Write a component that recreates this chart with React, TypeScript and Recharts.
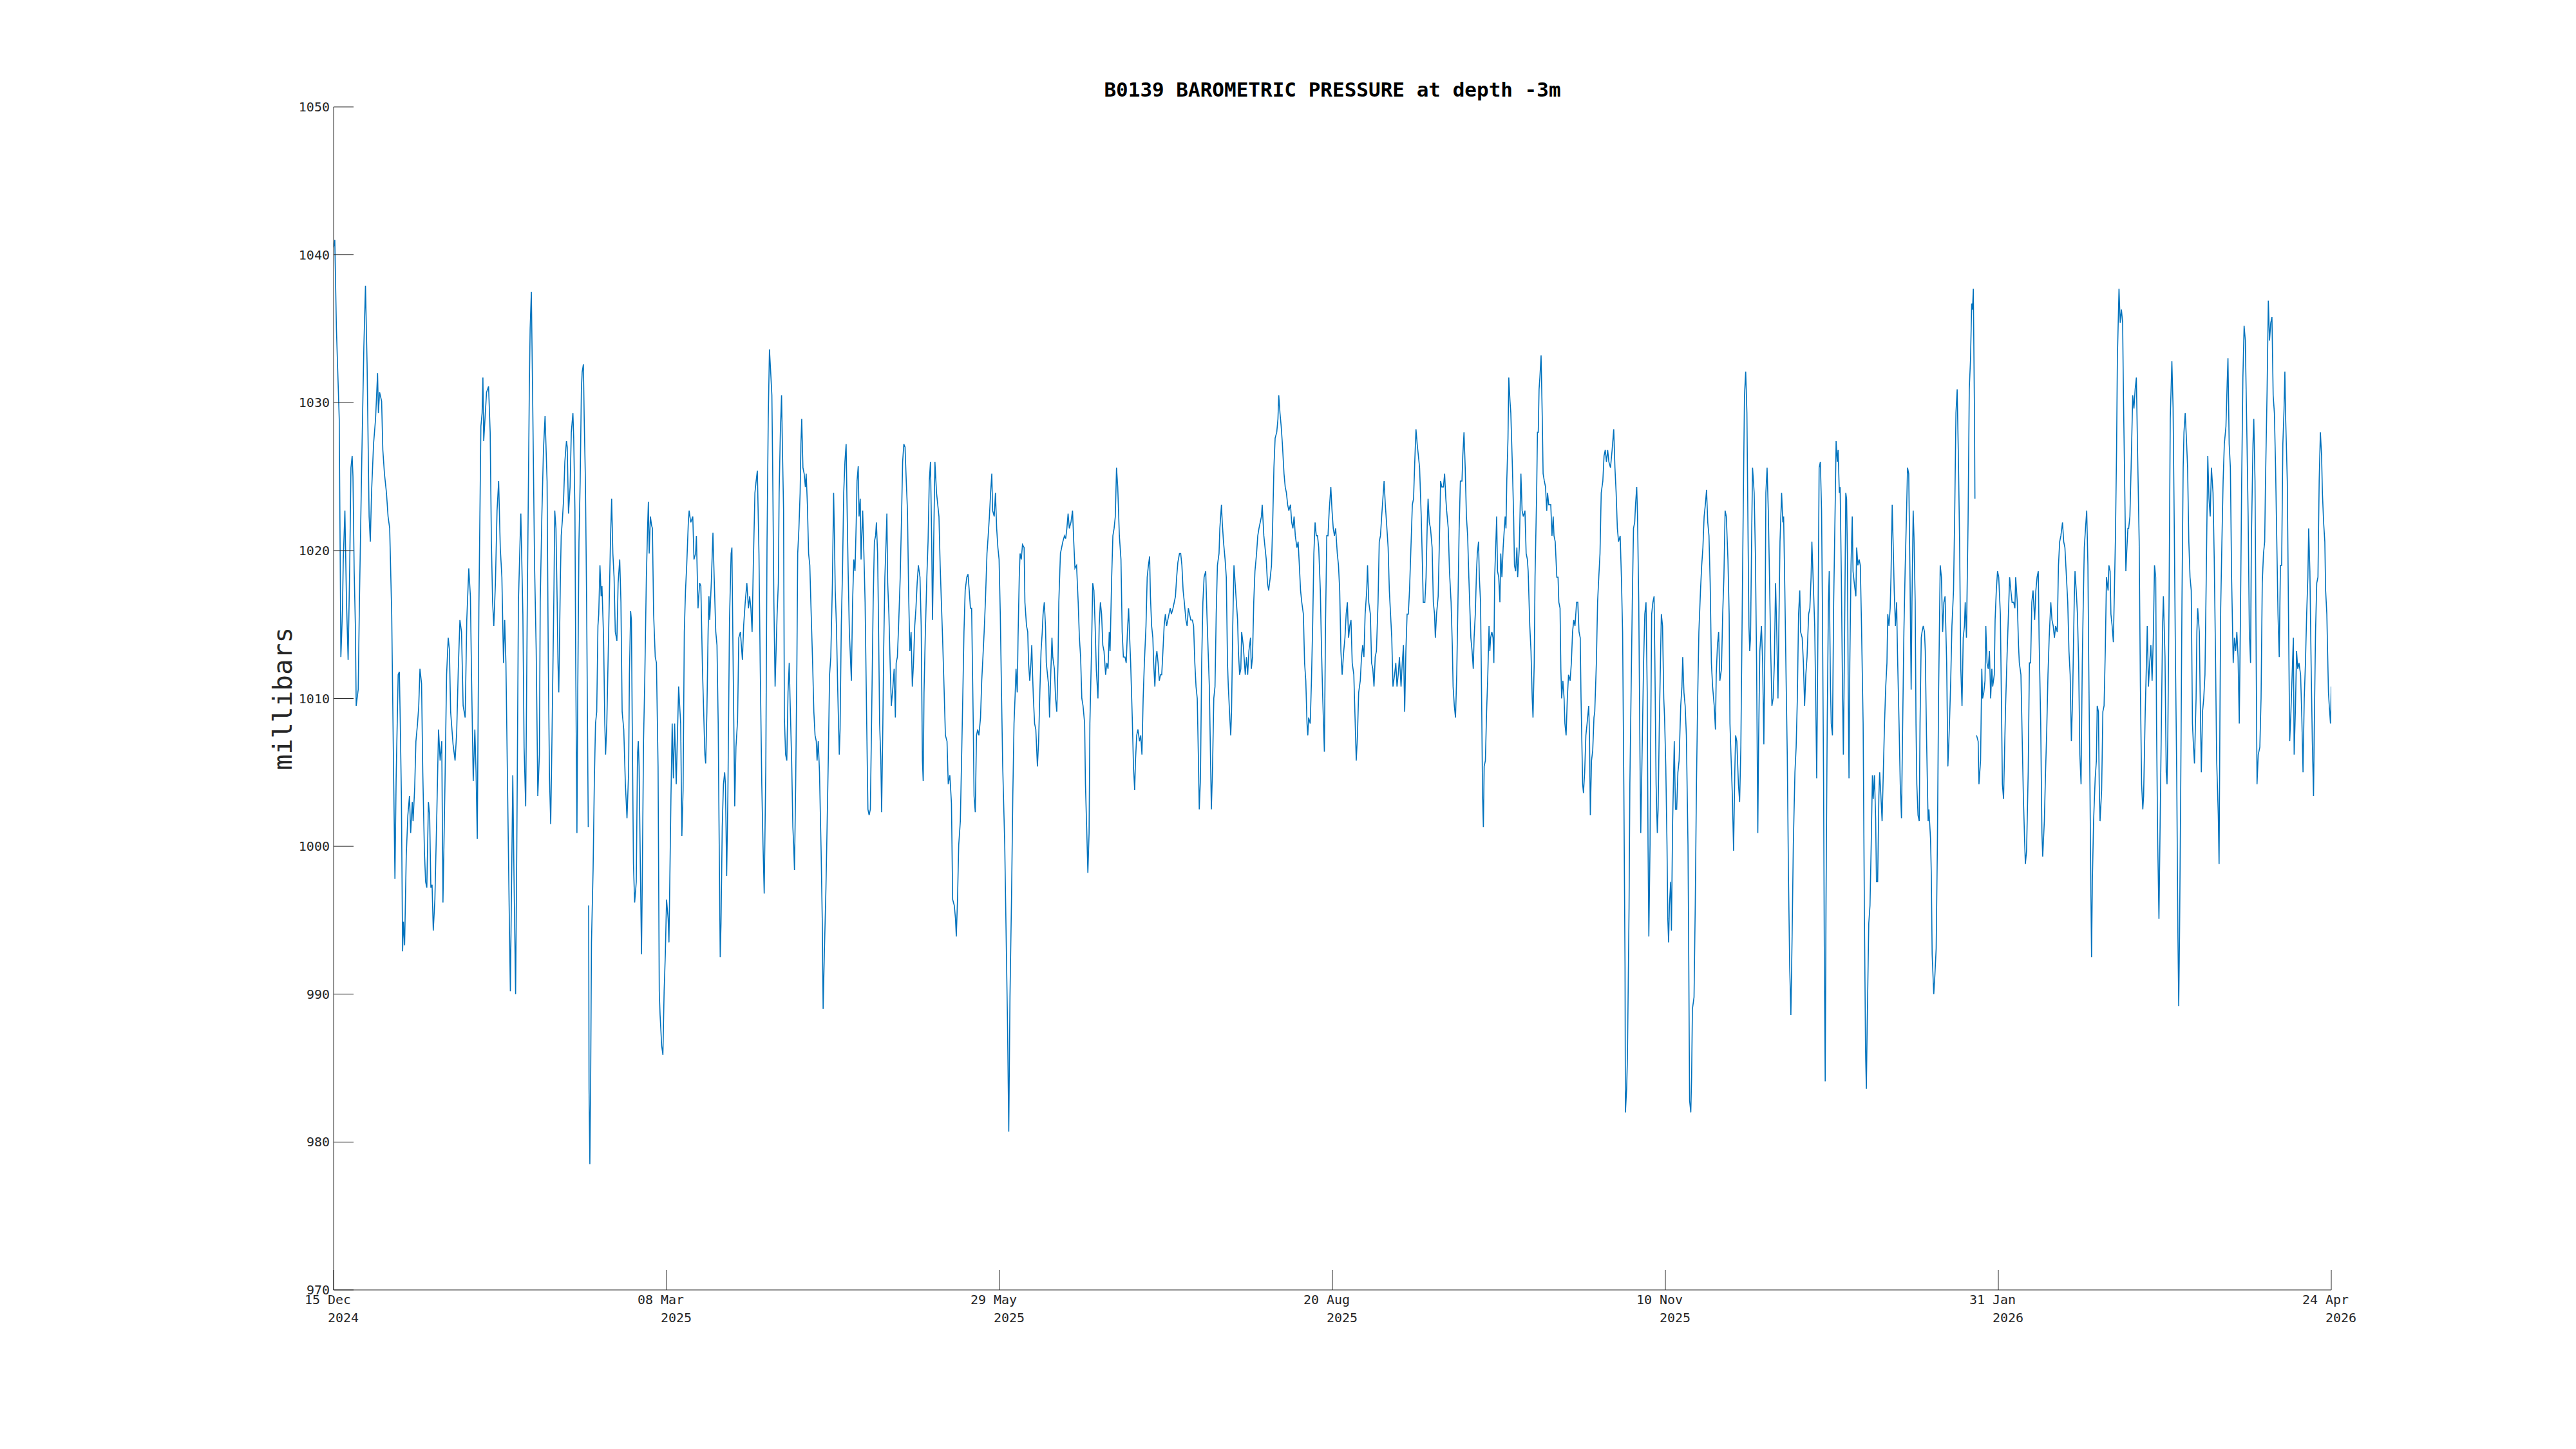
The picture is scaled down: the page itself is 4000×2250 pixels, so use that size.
import { LineChart, Line, XAxis, YAxis } from "recharts";

// [day since 15 Dec 2024, millibars]
const decToFeb = [
  [0.0, 1040.5], [0.3, 1041], [0.7, 1035], [1.4, 1028.9], [1.8, 1012.8], [2.0, 1014.3], [2.2, 1016], [2.4, 1019.4],
  [2.8, 1022.7], [3.2, 1016.5], [3.6, 1012.6], [4.0, 1019], [4.3, 1025.6], [4.6, 1026.4], [4.8, 1025], [5.1, 1018.6],
  [5.4, 1014.9], [5.6, 1009.5], [6.1, 1010.6], [6.4, 1016.5], [7.0, 1026.4], [7.5, 1033.8], [7.9, 1037.9], [8.3, 1032.6],
  [8.8, 1022.3], [9.1, 1020.6], [9.4, 1023.9], [9.9, 1027.2], [10.4, 1028.9], [10.9, 1032], [11.1, 1029.3], [11.4, 1030.7],
  [11.9, 1030.1], [12.2, 1026.8], [12.6, 1025.2], [13.1, 1023.9], [13.5, 1022.3], [13.9, 1021.5], [14.4, 1015.7], [14.9, 1004.2],
  [15.2, 997.8], [15.5, 1004.6], [16.0, 1011.6], [16.3, 1011.8], [16.5, 1008.7], [16.8, 1003.4], [17.1, 992.9], [17.3, 994.9],
  [17.6, 993.3], [18.0, 999.3], [18.4, 1002.1], [18.8, 1003.4], [19.1, 1000.9], [19.5, 1003], [19.7, 1001.7], [20.1, 1004],
  [20.4, 1007.1], [20.8, 1008.3], [21.1, 1009.5], [21.4, 1012], [21.8, 1011], [22.1, 1005], [22.5, 999.7], [22.8, 997.6],
  [23.1, 997.2], [23.5, 1003], [23.8, 1002.1], [24.1, 997.2], [24.4, 997.4], [24.7, 994.3], [25.1, 996.4], [25.6, 1002.5],
  [26.0, 1007.9], [26.4, 1005.8], [26.8, 1007.1], [27.1, 996.2], [27.6, 1004.2], [28.0, 1011.6], [28.4, 1014.1], [28.7, 1013.3],
  [29.0, 1009.1], [29.6, 1006.9], [30.1, 1005.8], [30.5, 1007.7], [30.9, 1012], [31.3, 1015.3], [31.7, 1014.5], [32.1, 1009.5],
  [32.6, 1008.7], [33.0, 1015.3], [33.5, 1018.8], [33.9, 1016.9], [34.2, 1011.2], [34.6, 1004.4], [35.0, 1007.9], [35.3, 1005],
  [35.6, 1000.5], [36.0, 1016.1], [36.5, 1028.4], [36.8, 1029.3], [37.0, 1031.7], [37.2, 1027.4], [37.6, 1029.3], [37.9, 1030.7],
  [38.4, 1031.1], [38.8, 1028], [39.1, 1020.6], [39.4, 1016.5], [39.7, 1014.9], [40.1, 1017.8], [40.5, 1022.7], [40.9, 1024.7],
  [41.3, 1020.2], [41.7, 1018.2], [42.1, 1012.4], [42.4, 1015.3], [42.7, 1012.4], [43.1, 1004.2], [43.5, 996], [43.8, 990.2],
  [44.4, 1004.8], [44.7, 998], [45.1, 990], [45.4, 1000.1], [45.8, 1016.5], [46.2, 1020.6], [46.4, 1022.5], [46.9, 1015.7],
  [47.2, 1006.7], [47.6, 1002.7], [48.0, 1016.5], [48.5, 1030.9], [48.7, 1035], [49.0, 1037.5], [49.3, 1030.9], [49.8, 1019],
  [50.2, 1013.3], [50.6, 1003.4], [51.0, 1006.2], [51.2, 1016.5], [51.6, 1022.3], [52.0, 1026.8], [52.4, 1029.1], [52.9, 1024.7],
  [53.2, 1012.4], [53.5, 1004.6], [53.8, 1001.5], [54.1, 1007.1],
];

const febToApr = [
  [54.6, 1017.3], [54.8, 1022.7], [55.1, 1021.5], [55.4, 1016.5], [55.6, 1012.4], [55.8, 1010.4], [56.2, 1018.2], [56.4, 1021],
  [56.7, 1022.1], [57.0, 1023.5], [57.3, 1026], [57.7, 1027.4], [57.9, 1027], [58.2, 1022.5], [58.6, 1024.3], [58.9, 1028],
  [59.3, 1029.3], [59.5, 1027.6], [59.8, 1022.7], [60.0, 1012.4], [60.3, 1000.9], [60.5, 1010.4], [60.8, 1020.6], [61.1, 1024.7],
  [61.4, 1030.9], [61.6, 1032.1], [61.9, 1032.6], [62.1, 1028.9], [62.4, 1024.7], [62.7, 1016.5], [63.1, 1001.3], [63.15, null],
  [63.2, 996], [63.3, 983.6], [63.5, 978.5], [63.7, 984.4], [63.9, 993.5], [64.3, 998.4], [64.6, 1004.2], [64.9, 1008.3],
  [65.2, 1009.1], [65.5, 1014.9], [65.7, 1015.7], [66.0, 1019], [66.3, 1016.9], [66.5, 1017.6], [66.9, 1014.1], [67.2, 1008.3],
  [67.4, 1006.2], [67.7, 1008.3], [68.0, 1012.4], [68.3, 1016.5], [68.6, 1020.6], [68.9, 1023.5], [69.2, 1019.8], [69.5, 1018.2],
  [69.8, 1014.5], [70.2, 1013.9], [70.5, 1017.8], [70.9, 1019.4], [71.2, 1016.5], [71.5, 1009.1], [71.9, 1007.9], [72.3, 1004.2],
  [72.7, 1001.9], [73.1, 1005], [73.3, 1011.6], [73.6, 1015.9], [73.8, 1015.3], [74.0, 1008.3], [74.3, 998.8], [74.6, 996.2],
  [75.0, 997.6], [75.3, 1006.2], [75.5, 1007.1], [75.7, 1005.4], [76.0, 998.8], [76.3, 992.7], [76.5, 998], [76.8, 1007.1],
  [77.1, 1011.2], [77.5, 1018.2], [77.8, 1021.5], [78.0, 1023.3], [78.2, 1019.8], [78.5, 1022.3], [78.8, 1021.7], [79.0, 1021.5],
  [79.3, 1015.7], [79.7, 1012.8], [80.0, 1012.4], [80.4, 1005.4], [80.7, 990.2], [80.9, 988.6], [81.3, 986.5], [81.6, 985.9],
  [81.9, 990.2], [82.2, 992.7], [82.5, 996.4], [82.9, 995.1], [83.1, 993.5], [83.6, 1003.4], [83.9, 1008.3], [84.2, 1004.6],
  [84.5, 1008.3], [84.9, 1004.2], [85.2, 1007.5], [85.5, 1010.8], [86.0, 1008.3], [86.3, 1000.7], [86.6, 1003.8], [86.9, 1014.5],
  [87.2, 1017.3], [87.5, 1019], [87.9, 1021.9], [88.1, 1022.7], [88.5, 1021.9], [89.0, 1022.3], [89.3, 1019.4], [89.7, 1019.8],
  [89.9, 1021], [90.3, 1016.1], [90.7, 1017.8], [91.0, 1017.6], [91.4, 1012], [91.7, 1009.1], [92.0, 1006.2], [92.2, 1005.6],
  [92.5, 1009.1], [92.8, 1014.5], [93.0, 1016.9], [93.2, 1015.3], [93.6, 1017.9], [94.0, 1021.2], [94.3, 1018.2], [94.7, 1014.5],
  [95.0, 1013.6], [95.3, 1008.3], [95.5, 1001.7], [95.8, 992.5], [96.0, 994.8], [96.3, 1001.3], [96.6, 1004.2], [96.9, 1005],
  [97.1, 1004.2], [97.4, 998], [97.7, 1003.4], [98.1, 1015.3], [98.5, 1019.8], [98.7, 1020.2], [99.0, 1012.4], [99.4, 1002.7],
  [99.7, 1006.7], [100.1, 1008.5], [100.4, 1014.1], [100.8, 1014.5], [101.3, 1012.6], [101.6, 1014.9], [102.0, 1016.5], [102.4, 1017.8],
  [102.8, 1016.1], [103.1, 1016.9], [103.4, 1016.1], [103.7, 1014.5], [104.0, 1019], [104.4, 1023.9], [104.7, 1024.7], [105.0, 1025.4],
  [105.4, 1019.8], [105.7, 1012.4], [106.1, 1004.2], [106.4, 1000.1], [106.7, 996.8], [107.1, 1005.4], [107.4, 1020.6], [107.7, 1028.9],
  [108.0, 1033.6], [108.3, 1032.1], [108.6, 1030.5], [108.8, 1025.6], [109.1, 1016.5], [109.4, 1010.8],
];

const aprToMay = [
  [109.9, 1015.7], [110.2, 1017.8], [110.4, 1023.9], [110.7, 1028], [111.0, 1030.5], [111.2, 1027.2], [111.5, 1022.7], [111.7, 1008.7],
  [112.0, 1006.2], [112.3, 1005.8], [112.6, 1010.4], [112.9, 1012.4], [113.1, 1010], [113.5, 1005.8], [113.8, 1001.3], [114.0, 1000.1],
  [114.2, 998.4], [114.5, 1004.2], [114.8, 1012.4], [115.0, 1019.8], [115.3, 1021.5], [115.6, 1023.9], [115.8, 1027.2], [116.0, 1028.9],
  [116.3, 1025.6], [116.6, 1025.2], [116.9, 1024.3], [117.1, 1025.2], [117.4, 1023.1], [117.7, 1019.8], [118.0, 1019], [118.3, 1016.1],
  [118.7, 1012.4], [119.0, 1009.1], [119.3, 1007.5], [119.6, 1007.1], [119.8, 1005.8], [120.1, 1007.1], [120.4, 1005], [120.8, 999.7],
  [121.1, 994.8], [121.3, 989], [121.6, 992.7], [122.0, 997.2], [122.2, 1000.1], [122.6, 1006.2], [122.9, 1011.6], [123.2, 1012.8],
  [123.6, 1017.8], [123.9, 1023.9], [124.1, 1021], [124.3, 1017.3], [124.6, 1014.9], [124.9, 1010.8], [125.3, 1006.2], [125.5, 1007.9],
  [125.8, 1014.9], [126.1, 1018.6], [126.4, 1023.9], [126.7, 1026], [127.0, 1027.2], [127.2, 1023.5], [127.5, 1018.6], [127.8, 1014.5],
  [128.0, 1013.2], [128.3, 1011.2], [128.6, 1016.5], [128.9, 1019.4], [129.2, 1018.6], [129.5, 1021.9], [129.7, 1024.7], [130.0, 1025.7],
  [130.2, 1022.3], [130.5, 1023.5], [130.7, 1019.4], [131.1, 1022.7], [131.4, 1019.8], [131.7, 1016.5], [132.1, 1008.3], [132.4, 1002.5],
  [132.7, 1002.1], [133.0, 1002.5], [133.3, 1008.3], [133.7, 1016.5], [134.0, 1020.6], [134.3, 1021], [134.5, 1021.9], [134.8, 1019.8],
  [135.0, 1015.7], [135.3, 1008.3], [135.6, 1005.8], [135.8, 1002.3], [136.1, 1008.3], [136.3, 1013.2], [136.6, 1018.2], [136.9, 1020.6],
  [137.1, 1022.5], [137.3, 1017.8], [137.6, 1015.7], [137.9, 1012.4], [138.2, 1009.5], [138.6, 1010.8], [138.9, 1012], [139.2, 1008.7],
  [139.4, 1012.4], [139.7, 1012.8], [140.0, 1014.9], [140.4, 1018.2], [140.7, 1021.9], [141.0, 1026], [141.3, 1027.2], [141.6, 1027],
  [141.9, 1024.7], [142.2, 1022.7], [142.5, 1016.9], [142.8, 1013.2], [143.1, 1014.5], [143.4, 1010.8], [143.7, 1012.4], [144.0, 1014.9],
  [144.3, 1016.1], [144.6, 1017.8], [144.9, 1019], [145.3, 1018.2], [145.6, 1014.9], [145.9, 1005.8], [146.1, 1004.4], [146.3, 1010.4],
  [146.6, 1014.1], [147.0, 1018.2], [147.3, 1020.6], [147.6, 1024.7], [147.9, 1026], [148.2, 1020.6], [148.4, 1015.3], [148.7, 1020.6],
  [149.0, 1026], [149.4, 1023.9], [149.7, 1023.1], [150.0, 1022.3], [150.3, 1019], [150.6, 1016.5], [150.9, 1014.1], [151.3, 1010.4],
  [151.6, 1007.5], [152.0, 1007.1], [152.3, 1004.2], [152.7, 1004.8], [153.1, 1002.9], [153.4, 996.4], [153.8, 996], [154.1, 995.1],
  [154.3, 993.9], [154.6, 996.4], [154.9, 1000.1], [155.3, 1001.7], [155.6, 1005.8], [155.9, 1010], [156.2, 1014.5], [156.5, 1017.3],
  [156.9, 1018.2], [157.2, 1018.4], [157.5, 1017.3], [157.8, 1016.1], [158.1, 1016.1], [158.5, 1008.3], [158.7, 1003.4], [159.0, 1002.3],
  [159.3, 1007.5], [159.6, 1007.9], [159.9, 1007.5], [160.3, 1008.7], [160.6, 1011.2], [160.9, 1012.8], [161.2, 1014.5], [161.5, 1016.5],
  [161.9, 1019.8], [162.2, 1021], [162.5, 1022.3], [162.8, 1023.9], [163.1, 1025.2], [163.3, 1022.7], [163.7, 1022.3], [164.0, 1023.9],
  [164.3, 1021.5], [164.6, 1020.2],
];

const mayToJul = [
  [164.9, 1019.4], [165.2, 1015.7], [165.5, 1010.4], [165.8, 1005.4], [166.3, 1000.1], [166.6, 994.8], [167.0, 987.8], [167.3, 980.7],
  [167.6, 989.8], [168.0, 996.8], [168.3, 1003.4], [168.6, 1008.3], [168.9, 1010.4], [169.1, 1012], [169.4, 1010.4], [169.6, 1014.1],
  [169.9, 1018.2], [170.1, 1019.8], [170.4, 1019.4], [170.7, 1020.4], [171.1, 1020.2], [171.3, 1016.5], [171.7, 1014.9], [172.0, 1014.5],
  [172.2, 1012.4], [172.5, 1011.2], [172.8, 1012.4], [173.0, 1013.6], [173.2, 1011.6], [173.4, 1010], [173.7, 1008.3], [174.0, 1007.9],
  [174.4, 1005.4], [174.7, 1007.1], [175.0, 1010.4], [175.3, 1013.2], [175.6, 1014.5], [175.8, 1015.7], [176.1, 1016.5], [176.4, 1014.9],
  [176.6, 1012.4], [176.9, 1011.6], [177.2, 1010.8], [177.4, 1008.7], [177.7, 1011.6], [178.0, 1014.1], [178.2, 1012.8], [178.6, 1012],
  [178.9, 1010], [179.2, 1009.1], [179.5, 1012.4], [179.7, 1016.5], [180.1, 1019.8], [180.4, 1020.2], [180.7, 1020.6], [181.1, 1021],
  [181.4, 1020.8], [181.7, 1021.5], [182.0, 1022.5], [182.3, 1021.5], [182.7, 1021.9], [183.1, 1022.7], [183.4, 1020.6], [183.7, 1018.8],
  [184.1, 1019], [184.5, 1016.5], [184.8, 1014.1], [185.1, 1012.8], [185.4, 1010], [185.7, 1009.5], [186.1, 1008.3], [186.3, 1004.2],
  [186.6, 1001.3], [186.9, 998.2], [187.2, 1000.9], [187.4, 1008.3], [187.8, 1013.2], [188.1, 1017.8], [188.4, 1017.3], [188.7, 1014.9],
  [189.0, 1011.9], [189.4, 1010], [189.7, 1014.9], [190.0, 1016.5], [190.3, 1015.7], [190.6, 1013.6], [190.9, 1013.2], [191.3, 1011.6],
  [191.6, 1012.4], [191.9, 1012], [192.2, 1014.5], [192.4, 1013.2], [192.8, 1018.2], [193.1, 1021], [193.4, 1021.5], [193.7, 1022.3],
  [194.0, 1025.6], [194.3, 1024.3], [194.7, 1021], [195.1, 1019.4], [195.4, 1014.5], [195.7, 1012.8], [196.1, 1012.8], [196.4, 1012.4],
  [196.7, 1014.5], [197.0, 1016.1], [197.2, 1014.5], [197.5, 1012.4], [197.9, 1008.7], [198.2, 1005.4], [198.5, 1003.8], [198.7, 1005.8],
  [199.0, 1007.5], [199.3, 1007.9], [199.7, 1007.1], [200.0, 1007.5], [200.3, 1006.2], [200.6, 1010], [200.9, 1012.4], [201.3, 1014.9],
  [201.6, 1018.2], [201.9, 1019], [202.2, 1019.6], [202.4, 1016.9], [202.7, 1014.9], [203.0, 1014.1], [203.2, 1012.4], [203.5, 1010.8],
  [203.8, 1012.8], [204.0, 1013.2], [204.3, 1012.4], [204.6, 1011.2], [204.9, 1011.6], [205.2, 1011.6], [205.5, 1013.2], [205.8, 1014.9],
  [206.1, 1015.7], [206.4, 1014.9], [206.7, 1015.3], [207.0, 1015.7], [207.3, 1016.1], [207.6, 1015.7], [208.0, 1016.1], [208.3, 1016.5],
  [208.6, 1016.9], [208.9, 1018.2], [209.2, 1019.2], [209.6, 1019.8], [209.9, 1019.8], [210.2, 1019], [210.5, 1017.3], [210.8, 1016.5],
  [211.2, 1015.3], [211.5, 1014.9], [211.8, 1016.1], [212.1, 1015.7], [212.4, 1015.3], [212.8, 1015.3], [213.1, 1014.9], [213.4, 1012.4],
  [213.7, 1010.8], [214.0, 1010], [214.3, 1005.8], [214.5, 1002.5], [214.8, 1004.6], [215.1, 1012.4], [215.4, 1016.5], [215.7, 1018.2],
  [216.1, 1018.6], [216.4, 1015.7], [216.7, 1013.2], [217.0, 1010.8], [217.3, 1005.8], [217.5, 1002.5], [217.8, 1005.4], [218.1, 1010],
  [218.4, 1010.8], [218.7, 1015.7], [219.0, 1019], [219.4, 1019.8], [219.6, 1021.5],
];

const julToSep = [
  [220.0, 1023.1], [220.2, 1021.9], [220.5, 1020.6], [220.9, 1019.4], [221.2, 1018.2], [221.5, 1012.4], [221.7, 1010.8], [222.0, 1009.1],
  [222.3, 1007.5], [222.5, 1009.1], [222.8, 1014.9], [223.1, 1019], [223.3, 1018.2], [223.6, 1016.9], [224.0, 1015.3], [224.2, 1013.2],
  [224.5, 1011.6], [224.8, 1012], [225.0, 1014.5], [225.4, 1013.6], [225.7, 1012.4], [225.9, 1011.6], [226.2, 1012.8], [226.5, 1011.6],
  [226.8, 1013.2], [227.2, 1014.1], [227.4, 1012], [227.7, 1012.8], [228.0, 1016.5], [228.3, 1018.6], [228.7, 1019.8], [229.0, 1021],
  [229.3, 1021.5], [229.6, 1021.9], [229.9, 1022.3], [230.1, 1023.1], [230.5, 1021], [230.8, 1020.2], [231.1, 1019.4], [231.4, 1017.8],
  [231.7, 1017.3], [232.1, 1018.2], [232.4, 1019], [232.7, 1021.9], [233.0, 1025.6], [233.3, 1027.6], [233.7, 1028], [234.0, 1028.9],
  [234.2, 1030.5], [234.5, 1029.3], [234.8, 1028.4], [235.1, 1027.2], [235.5, 1025.2], [235.8, 1024.3], [236.1, 1023.9], [236.4, 1023.1],
  [236.7, 1022.7], [237.1, 1023.1], [237.4, 1021.9], [237.7, 1021.5], [238.0, 1022.3], [238.3, 1021], [238.7, 1020.2], [239.0, 1020.6],
  [239.3, 1019], [239.6, 1017.3], [239.9, 1016.5], [240.3, 1015.7], [240.6, 1012.4], [240.9, 1011.2], [241.2, 1008.3], [241.4, 1007.5],
  [241.6, 1008.7], [242.0, 1008.3], [242.3, 1011.2], [242.6, 1014.9], [242.9, 1019.8], [243.2, 1021.9], [243.5, 1021], [243.8, 1021],
  [244.1, 1020.2], [244.5, 1017.3], [244.8, 1013.2], [245.1, 1010], [245.5, 1006.4], [245.8, 1015.3], [246.1, 1021], [246.4, 1021],
  [246.7, 1022.7], [247.1, 1024.3], [247.4, 1022.7], [247.7, 1021.5], [248.0, 1021], [248.3, 1021.5], [248.7, 1019.8], [249.0, 1019],
  [249.3, 1017.3], [249.6, 1013.2], [249.9, 1011.6], [250.3, 1013.2], [250.6, 1014.1], [250.9, 1015.7], [251.2, 1016.5], [251.5, 1014.1],
  [251.8, 1014.9], [252.1, 1015.3], [252.4, 1012.4], [252.8, 1011.6], [253.1, 1008.7], [253.4, 1005.8], [253.7, 1007.5], [254.0, 1010.4],
  [254.4, 1011.2], [254.7, 1012.8], [255.0, 1013.6], [255.3, 1012.8], [255.6, 1015.7], [256.0, 1017.3], [256.2, 1019], [256.5, 1016.5],
  [256.9, 1015.7], [257.2, 1012.4], [257.5, 1012], [257.8, 1010.8], [258.1, 1012.8], [258.4, 1013.2], [258.8, 1016.5], [259.1, 1020.6],
  [259.4, 1021], [259.7, 1022.3], [260.0, 1023.5], [260.3, 1024.7], [260.6, 1023.1], [260.9, 1021.9], [261.3, 1020.2], [261.6, 1017.3],
  [261.9, 1015.7], [262.2, 1014.1], [262.5, 1010.8], [262.9, 1011.6], [263.2, 1012.4], [263.5, 1010.8], [263.8, 1011.6], [264.1, 1012.8],
  [264.5, 1010.8], [264.8, 1012.4], [265.1, 1013.6], [265.4, 1009.1], [265.7, 1013.2], [266.0, 1015.7], [266.3, 1015.7], [266.6, 1017.3],
  [267.0, 1020.6], [267.3, 1023.1], [267.6, 1023.5], [267.9, 1026], [268.2, 1028.2], [268.5, 1027.2], [268.8, 1026.4], [269.1, 1025.6],
  [269.5, 1022.3], [269.8, 1019], [270.0, 1016.5], [270.4, 1016.5], [270.7, 1018.2], [271.0, 1021.9], [271.2, 1023.5], [271.5, 1021.9],
  [271.8, 1021.5], [272.2, 1020.2], [272.5, 1016.5], [272.8, 1015.7], [273.0, 1014.1], [273.3, 1015.7], [273.7, 1016.9], [274.0, 1020.6],
  [274.3, 1024.7], [274.6, 1024.3],
];

const sepToNov = [
  [275.0, 1024.3], [275.3, 1025.2], [275.6, 1023.5], [275.8, 1022.7], [276.2, 1021.5], [276.5, 1018.6], [276.9, 1016.5], [277.2, 1013.6],
  [277.4, 1010.8], [277.7, 1009.5], [278.0, 1008.7], [278.3, 1011.6], [278.6, 1016.5], [278.9, 1021.5], [279.2, 1024.7], [279.6, 1024.7],
  [279.8, 1026.4], [280.1, 1028], [280.4, 1025.6], [280.7, 1022.3], [281.0, 1021], [281.3, 1018.2], [281.6, 1015.7], [281.8, 1014.1],
  [282.1, 1013.2], [282.4, 1012], [282.6, 1014.1], [282.9, 1015.7], [283.2, 1018.6], [283.4, 1019.8], [283.7, 1020.6], [283.9, 1018.2],
  [284.2, 1016.5], [284.5, 1009.1], [284.7, 1003.4], [284.9, 1001.3], [285.1, 1005.4], [285.4, 1005.8], [285.7, 1009.1], [286.0, 1011.6],
  [286.3, 1014.9], [286.5, 1013.2], [286.7, 1014.1], [287.0, 1014.5], [287.3, 1014.1], [287.5, 1012.4], [287.7, 1018.2], [288.0, 1020.6],
  [288.2, 1022.3], [288.4, 1018.6], [288.7, 1018.2], [289.0, 1016.5], [289.2, 1019.8], [289.5, 1018.2], [289.8, 1020.2], [290.1, 1021.5],
  [290.3, 1022.3], [290.5, 1021.5], [290.7, 1024.7], [291.0, 1027.6], [291.2, 1031.7], [291.5, 1030.1], [291.7, 1029.3], [292.1, 1025.6],
  [292.4, 1022.3], [292.6, 1019], [292.9, 1018.6], [293.2, 1020.2], [293.4, 1018.2], [293.8, 1020.2], [294.0, 1022.7], [294.2, 1025.2],
  [294.5, 1022.7], [294.8, 1022.3], [295.2, 1022.7], [295.5, 1019.8], [295.8, 1019.4], [296.0, 1018.6], [296.4, 1014.9], [296.7, 1013.2],
  [297.0, 1010], [297.2, 1008.7], [297.5, 1012.4], [297.7, 1018.2], [298.1, 1023.9], [298.3, 1028], [298.5, 1028], [298.7, 1030.9],
  [298.9, 1031.7], [299.2, 1033.2], [299.5, 1028.9], [299.7, 1025.2], [300.0, 1024.7], [300.3, 1024.3], [300.6, 1022.7], [300.8, 1023.9],
  [301.1, 1023.1], [301.4, 1023.1], [301.6, 1023.1], [301.9, 1021], [302.2, 1022.3], [302.4, 1021], [302.7, 1020.6], [303.1, 1018.2],
  [303.4, 1018.2], [303.6, 1016.5], [303.9, 1016.1], [304.1, 1012], [304.3, 1010], [304.6, 1011.2], [304.9, 1010], [305.1, 1008.3],
  [305.4, 1007.5], [305.7, 1010], [306.0, 1011.6], [306.4, 1011.2], [306.7, 1012.4], [307.0, 1014.5], [307.3, 1015.3], [307.6, 1014.9],
  [308.0, 1016.5], [308.3, 1016.5], [308.6, 1014.5], [308.9, 1014.1], [309.1, 1010], [309.5, 1004.2], [309.7, 1003.6], [310.0, 1005],
  [310.3, 1007.5], [310.6, 1008.3], [311.0, 1009.5], [311.2, 1007.5], [311.4, 1002.1], [311.7, 1005.8], [312.0, 1006.5], [312.3, 1008.7],
  [312.5, 1009.1], [312.9, 1012.4], [313.2, 1016.5], [313.5, 1018.2], [313.8, 1019.8], [314.1, 1023.9], [314.5, 1024.7], [314.8, 1026.4],
  [315.1, 1026.8], [315.4, 1026], [315.7, 1026.8], [316.0, 1026], [316.4, 1025.6], [316.8, 1026.8], [317.2, 1028.2], [317.5, 1025.6],
  [317.8, 1023.9], [318.1, 1021.5], [318.4, 1020.6], [318.8, 1021], [319.1, 1018.2], [319.4, 1014.5], [319.7, 1004.2], [320.0, 991.9],
  [320.1, 982], [320.4, 983.6], [320.6, 985.7], [321.0, 995.9], [321.2, 1004.2], [321.5, 1010.4], [321.8, 1016.5], [322.1, 1021.5],
  [322.4, 1021.9], [322.6, 1023.1], [322.9, 1024.3], [323.1, 1022.3], [323.4, 1016.5], [323.7, 1006.2], [323.9, 1000.9], [324.2, 1005.8],
  [324.6, 1012.4], [324.9, 1015.7], [325.2, 1016.5], [325.5, 1010.4], [325.7, 1000.1], [325.9, 993.9], [326.2, 1000.1], [326.4, 1008.7],
  [326.6, 1015.7], [326.9, 1016.5], [327.2, 1016.9], [327.4, 1012.4], [327.7, 1004.2], [328.0, 1000.9], [328.2, 1002.5], [328.5, 1008.3],
  [328.8, 1012.8], [329.0, 1015.7], [329.3, 1014.9], [329.6, 1010],
];

const novToJan = [
  [329.8, 1008.7], [330.1, 1005.4], [330.4, 1000.1], [330.6, 995.1], [330.8, 993.5], [331.0, 996], [331.3, 997.6], [331.5, 994.3],
  [331.8, 1001.7], [332.2, 1007.1], [332.5, 1002.5], [332.8, 1002.5], [333.1, 1005], [333.4, 1005.8], [333.8, 1009.5], [334.1, 1010.8],
  [334.3, 1012.8], [334.6, 1010.4], [334.9, 1009.5], [335.2, 1007.5], [335.6, 1000.1], [335.8, 991.9], [336.0, 982.8], [336.3, 982],
  [336.5, 984.4], [336.7, 989], [337.1, 989.8], [337.4, 996], [337.7, 1004.2], [338.0, 1010], [338.3, 1014.5], [338.7, 1017.3],
  [339.0, 1019], [339.3, 1020.2], [339.6, 1022.3], [339.9, 1023.1], [340.2, 1024.1], [340.5, 1021.9], [340.8, 1021], [341.1, 1017.8],
  [341.4, 1012.4], [341.7, 1010.8], [342.1, 1009.5], [342.4, 1007.9], [342.6, 1011.6], [342.9, 1013.6], [343.2, 1014.5], [343.5, 1011.2],
  [343.9, 1012], [344.2, 1015.7], [344.5, 1018.2], [344.8, 1022.7], [345.1, 1022.3], [345.5, 1019.4], [345.8, 1015.7], [346.0, 1008.3],
  [346.3, 1005.8], [346.6, 1003.4], [346.9, 999.7], [347.2, 1005], [347.4, 1007.5], [347.7, 1007.1], [348.1, 1004.2], [348.4, 1003],
  [348.7, 1006.7], [349.0, 1014.9], [349.3, 1023.1], [349.6, 1030.5], [349.9, 1032.1], [350.2, 1029.3], [350.5, 1020.6], [350.7, 1014.9],
  [350.9, 1013.2], [351.1, 1014.1], [351.4, 1021.5], [351.6, 1025.6], [352.0, 1023.9], [352.3, 1019.8], [352.6, 1012.4], [352.9, 1000.9],
  [353.1, 1007.1], [353.4, 1013.2], [353.8, 1014.9], [354.1, 1012.4], [354.4, 1006.9], [354.7, 1014.5], [354.9, 1023.9], [355.2, 1025.6],
  [355.5, 1022.7], [355.8, 1018.2], [356.1, 1013.2], [356.4, 1009.5], [356.7, 1010], [357.0, 1012.4], [357.3, 1017.8], [357.6, 1014.5],
  [357.9, 1010], [358.2, 1016.5], [358.4, 1020.6], [358.8, 1023.9], [359.1, 1021.9], [359.3, 1022.3], [359.6, 1017.3], [359.9, 1011.6],
  [360.2, 1006.2], [360.5, 998], [360.8, 991.9], [361.1, 988.6], [361.4, 993.9], [361.7, 1000.1], [362.1, 1005], [362.4, 1006.7],
  [362.7, 1010], [363.0, 1015.7], [363.3, 1017.3], [363.5, 1014.5], [363.9, 1014.1], [364.2, 1012.4], [364.5, 1009.5], [364.8, 1011.6],
  [365.1, 1012.8], [365.5, 1015.7], [365.8, 1016.1], [366.1, 1018.2], [366.3, 1020.6], [366.6, 1018.2], [367.0, 1014.9], [367.3, 1009.1],
  [367.5, 1004.6], [367.8, 1014.5], [368.1, 1025.6], [368.4, 1026], [368.7, 1022.7], [368.9, 1016.5], [369.2, 1004.2], [369.4, 991.9],
  [369.6, 984.1], [369.8, 995.9], [370.1, 1008.3], [370.4, 1016.5], [370.6, 1018.6], [370.9, 1010.8], [371.1, 1008.3], [371.4, 1007.5],
  [371.7, 1016.5], [372.1, 1023.5], [372.3, 1027.4], [372.6, 1026], [372.8, 1026.8], [373.1, 1023.9], [373.3, 1024.3], [373.6, 1018.2],
  [373.9, 1010.4], [374.1, 1006.2], [374.4, 1014.1], [374.7, 1023.9], [374.9, 1023.5], [375.1, 1019.8], [375.3, 1010.8], [375.5, 1004.6],
  [375.7, 1012.4], [376.0, 1019], [376.3, 1022.3], [376.5, 1018.6], [376.8, 1017.8], [377.2, 1016.9], [377.4, 1020.2], [377.7, 1019],
  [378.0, 1019.4], [378.3, 1019], [378.6, 1014.9], [379.0, 1008.3], [379.3, 996], [379.6, 986.1], [379.8, 983.6], [380.0, 987.8],
  [380.4, 994.8], [380.7, 996], [381.0, 1000.1], [381.3, 1004.8], [381.5, 1003.2], [381.8, 1004.8], [382.1, 1001.9], [382.3, 997.6],
  [382.6, 997.6], [382.9, 1003.4], [383.1, 1005], [383.4, 1003.4], [383.7, 1001.7], [384.0, 1005], [384.3, 1008.3], [384.6, 1010.8],
];

const janToFeb = [
  [384.9, 1012.4], [385.1, 1015.7], [385.4, 1014.9], [385.7, 1016.1], [385.9, 1018.2], [386.2, 1023.1], [386.5, 1019.8], [386.7, 1017.3],
  [387.0, 1014.9], [387.3, 1016.5], [387.5, 1013.2], [387.9, 1008.3], [388.2, 1004.2], [388.5, 1001.9], [388.8, 1008.3], [389.1, 1014.5],
  [389.4, 1018.6], [389.8, 1023.1], [390.0, 1025.6], [390.3, 1025.2], [390.6, 1018.6], [390.9, 1010.6], [391.1, 1016.5], [391.4, 1022.7],
  [391.6, 1020.9], [391.9, 1016.5], [392.1, 1008.3], [392.3, 1004.2], [392.6, 1002.1], [392.9, 1001.7], [393.1, 1008.3], [393.4, 1014.1],
  [393.6, 1014.5], [393.9, 1014.9], [394.2, 1014.5], [394.4, 1013.2], [394.7, 1007.5], [395.1, 1001.7], [395.3, 1002.5], [395.7, 1000.5],
  [395.9, 998], [396.1, 992.7], [396.5, 990], [396.8, 991.4], [397.1, 993.1], [397.4, 1000.1], [397.7, 1010.4], [398.1, 1019],
  [398.4, 1018.2], [398.7, 1014.5], [399.0, 1016.5], [399.3, 1016.9], [399.7, 1012.4], [400.0, 1005.4], [400.4, 1008.3], [400.7, 1011.2],
  [401.0, 1014.9], [401.4, 1017.3], [401.7, 1022.7], [402.0, 1029.3], [402.3, 1030.9], [402.6, 1026.4], [402.9, 1020.6], [403.2, 1012],
  [403.5, 1009.5], [403.8, 1014.1], [404.1, 1014.9], [404.3, 1016.5], [404.6, 1014.1], [405.0, 1021.9], [405.3, 1030.9], [405.6, 1032.9],
  [405.9, 1036.7], [406.1, 1036.3], [406.3, 1037.7], [406.6, 1028.9], [406.7, 1023.5], [406.9, null], [407.1, 1007.5], [407.5, 1007.1],
  [407.7, 1004.2], [408.1, 1005.8], [408.4, 1012], [408.6, 1010], [408.9, 1010.4], [409.2, 1011.2], [409.4, 1014.9], [409.7, 1012.4],
  [410.0, 1012], [410.3, 1013.2], [410.6, 1010], [410.9, 1012], [411.1, 1010.8], [411.5, 1011.6], [411.7, 1015.3], [412.0, 1017.3],
  [412.3, 1018.6], [412.6, 1018.2], [413.0, 1015.7], [413.3, 1009.1], [413.5, 1004.2], [413.8, 1003.2], [414.1, 1007.1], [414.3, 1009.5],
  [414.7, 1013.2], [415.0, 1015.7], [415.3, 1018.2], [415.6, 1017.3], [415.9, 1016.5], [416.3, 1016.5], [416.6, 1016.1], [416.8, 1018.2],
  [417.2, 1016.5], [417.5, 1013.6], [417.7, 1012.4], [418.1, 1011.6], [418.4, 1007.5], [418.7, 1003.4], [419.0, 1000.5], [419.2, 998.8],
  [419.5, 999.7], [419.9, 1005], [420.2, 1012.4], [420.5, 1012.4], [420.8, 1016.5], [421.1, 1017.3], [421.5, 1015.3], [421.8, 1017.3],
  [422.1, 1018.2], [422.4, 1018.6], [422.6, 1014.1], [423.0, 1008.3], [423.3, 1000.9], [423.5, 999.3], [423.9, 1001.7], [424.2, 1005],
  [424.5, 1007.9], [424.8, 1011.6], [425.1, 1014.1], [425.5, 1016.5], [425.8, 1015.3], [426.1, 1014.9], [426.4, 1014.1], [426.7, 1014.9],
  [427.1, 1014.5], [427.4, 1019], [427.7, 1020.6], [428.0, 1021], [428.4, 1021.9], [428.7, 1020.6], [429.0, 1020.2], [429.3, 1018.6],
  [429.7, 1016.5], [430.0, 1013.2], [430.3, 1011.6], [430.6, 1007.1], [430.9, 1010], [431.3, 1016.5], [431.5, 1018.6], [431.8, 1017.3],
  [432.1, 1015.7], [432.4, 1012.4], [432.7, 1006.2], [433.0, 1004.2], [433.3, 1012.4], [433.5, 1015.7], [433.8, 1020.2], [434.1, 1021.5],
  [434.4, 1022.7], [434.7, 1019], [434.9, 1012.4], [435.2, 1004.2], [435.4, 998], [435.6, 992.5], [435.8, 997.6], [436.1, 1001.7],
  [436.5, 1004.6], [436.8, 1005.8], [437.0, 1009.5], [437.3, 1009.1], [437.5, 1004.2], [437.7, 1001.7], [438.1, 1003.8], [438.4, 1009.1],
  [438.7, 1009.5], [439.0, 1013.2], [439.3, 1018.2], [439.7, 1017.3],
];

const marToApr = [
  [439.9, 1019], [440.2, 1018.6], [440.4, 1015.7], [440.7, 1014.9], [441.0, 1013.8], [441.2, 1016.5], [441.5, 1020.6], [441.8, 1026.8],
  [442.0, 1033], [442.4, 1037.7], [442.7, 1035.4], [443.0, 1036.3], [443.3, 1035.4], [443.5, 1030.5], [443.8, 1024.7], [444.1, 1018.6],
  [444.3, 1019.8], [444.6, 1021.5], [444.8, 1021.5], [445.1, 1022.3], [445.4, 1025.6], [445.8, 1030.5], [446.1, 1029.6], [446.4, 1030.9],
  [446.7, 1031.7], [447.0, 1026.8], [447.4, 1020.6], [447.7, 1010.8], [448.0, 1004.2], [448.3, 1002.5], [448.5, 1003.4], [448.9, 1009.1],
  [449.2, 1012.4], [449.4, 1014.9], [449.7, 1010.8], [450.0, 1012.4], [450.3, 1013.6], [450.6, 1011.2], [450.9, 1014.1], [451.2, 1019],
  [451.5, 1018.2], [451.7, 1008.3], [452.0, 1000.1], [452.3, 995.1], [452.6, 1001.7], [452.9, 1008.3], [453.2, 1014.9], [453.4, 1016.9],
  [453.8, 1012.8], [454.1, 1005], [454.3, 1004.2], [454.5, 1007.5], [454.8, 1016.5], [455.1, 1028.9], [455.5, 1032.8], [455.8, 1029.7],
  [456.1, 1021.5], [456.4, 1012.4], [456.7, 1005], [457.0, 993.9], [457.2, 989.2], [457.4, 993.9], [457.7, 1004.2], [458.0, 1016.5],
  [458.3, 1025.6], [458.5, 1028], [458.8, 1029.3], [459.1, 1027.6], [459.4, 1025.6], [459.7, 1020.6], [460.0, 1018.2], [460.3, 1017.3],
  [460.6, 1008.3], [460.8, 1007.1], [461.1, 1005.6], [461.5, 1010], [461.7, 1014.5], [461.9, 1016.1], [462.3, 1014.5], [462.5, 1010.4],
  [462.8, 1005], [463.1, 1009.1], [463.4, 1010], [463.7, 1011.6], [464.0, 1017.8], [464.2, 1022.3], [464.4, 1026.4], [464.7, 1023.5],
  [465.0, 1022.3], [465.3, 1025.6], [465.7, 1023.9], [466.0, 1019.4], [466.3, 1013.2], [466.6, 1005.8], [467.0, 1002.1], [467.2, 998.8],
  [467.4, 1008.3], [467.6, 1016.1], [467.9, 1020.6], [468.2, 1024.7], [468.5, 1027.2], [468.9, 1028.4], [469.2, 1031.3], [469.4, 1033],
  [469.7, 1027.2], [470.0, 1025.6], [470.3, 1018.2], [470.7, 1012.4], [471.0, 1014.1], [471.3, 1013.2], [471.6, 1014.5], [471.9, 1012.8],
  [472.2, 1008.3], [472.5, 1015.7], [472.8, 1024.7], [473.1, 1031.7], [473.4, 1035.2], [473.7, 1034.2], [474.1, 1027.6], [474.4, 1022.3],
  [474.7, 1014.5], [475.0, 1012.4], [475.2, 1020.6], [475.6, 1027.2], [475.8, 1028.9], [476.1, 1024.7], [476.4, 1012.4], [476.6, 1004.2],
  [476.9, 1006.2], [477.3, 1006.7], [477.6, 1010], [477.9, 1017.8], [478.2, 1019.8], [478.5, 1020.6], [478.7, 1024.7], [479.1, 1030.9],
  [479.4, 1036.9], [479.7, 1034.2], [480.0, 1035.4], [480.3, 1035.8], [480.6, 1030.5], [480.9, 1029.3], [481.2, 1025.6], [481.5, 1020.6],
  [481.8, 1015.7], [482.1, 1012.8], [482.4, 1019], [482.7, 1019], [483.0, 1027.2], [483.3, 1029.6], [483.5, 1032.1], [483.7, 1028.9],
  [484.1, 1024.7], [484.4, 1015.7], [484.7, 1007.1], [485.0, 1009.1], [485.3, 1011.6], [485.6, 1014.1], [485.8, 1006.2], [486.1, 1009.1],
  [486.4, 1013.2], [486.7, 1012], [487.0, 1012.4], [487.4, 1011.6], [487.7, 1008.7], [488.0, 1005], [488.3, 1010], [488.6, 1012.4],
  [488.9, 1015.7], [489.2, 1018.2], [489.4, 1021.5], [489.7, 1018.6], [490.0, 1012.4], [490.3, 1007.1], [490.6, 1003.4], [490.8, 1008.3],
  [491.1, 1014.5], [491.4, 1017.8], [491.7, 1018.2], [492.0, 1024.7], [492.3, 1028], [492.6, 1026.4], [492.8, 1023.9], [493.1, 1021.9],
  [493.4, 1020.6], [493.6, 1017.3], [493.9, 1015.7], [494.3, 1010.4], [494.5, 1009.5], [494.8, 1008.3], [495.0, 1010.8],
];

const xTickDays = [0, 82.5, 165, 247.5, 330, 412.5, 495];
const xTickDates = ["15 Dec", "08 Mar", "29 May", "20 Aug", "10 Nov", "31 Jan", "24 Apr"];
const xTickYears = ["2024", "2025", "2025", "2025", "2025", "2026", "2026"];
const yTicks = [970, 980, 990, 1000, 1010, 1020, 1030, 1040, 1050];

const data = [
  ...decToFeb, ...febToApr, ...aprToMay, ...mayToJul, ...julToSep,
  ...sepToNov, ...novToJan, ...janToFeb, ...marToApr,
].map(([day, mbar]) => ({ day, mbar }));

const INK = "#262626";
const FONT = "'DejaVu Sans Mono', monospace";

const YTick = ({ x, y, payload }: any) => (
  <g>
    <line x1={x} y1={y} x2={x + 31} y2={y} stroke={INK} strokeWidth={1} />
    <text x={x - 6} y={y} dy="0.35em" textAnchor="end" fontSize={20} fontFamily={FONT} fill={INK}>
      {payload.value}
    </text>
  </g>
);

const XTick = ({ x, y, payload }: any) => {
  const i = xTickDays.indexOf(payload.value);
  return (
    <g>
      <line x1={x} y1={y} x2={x} y2={y - 31} stroke={INK} strokeWidth={1} />
      <text x={x - 9} y={y + 22} textAnchor="middle" fontSize={20} fontFamily={FONT} fill={INK}>
        {xTickDates[i]}
      </text>
      <text x={x - 9} y={y + 50} textAnchor="start" fontSize={20} fontFamily={FONT} fill={INK}>
        {xTickYears[i]}
      </text>
    </g>
  );
};

export default function App() {
  return (
    <div style={{ position: "absolute", left: 0, top: 0, width: 4000, height: 2250, background: "#fff" }}>
      <div
        style={{
          position: "absolute", left: 518, top: 124, width: 3102, textAlign: "center",
          fontFamily: FONT, fontWeight: "bold", fontSize: 31, lineHeight: "31px", color: "#000",
        }}
      >
        B0139 BAROMETRIC PRESSURE at depth -3m
      </div>
      <div
        style={{
          position: "absolute", left: 439, top: 1085, transform: "translate(-50%, -50%) rotate(-90deg)",
          fontFamily: FONT, fontSize: 41, lineHeight: "41px", color: INK, whiteSpace: "nowrap",
        }}
      >
        millibars
      </div>
      <LineChart width={4000} height={2250} data={data} margin={{ top: 166, right: 380, bottom: 187, left: 458 }}>
        <XAxis
          type="number"
          dataKey="day"
          domain={[0, 495]}
          ticks={xTickDays}
          interval={0}
          height={60}
          tickSize={0}
          tickMargin={0}
          tick={<XTick />}
          tickLine={false}
          axisLine={{ stroke: INK, strokeWidth: 1 }}
          allowDataOverflow
        />
        <YAxis
          type="number"
          domain={[970, 1050]}
          ticks={yTicks}
          interval={0}
          width={60}
          tickSize={0}
          tickMargin={0}
          tick={<YTick />}
          tickLine={false}
          axisLine={{ stroke: INK, strokeWidth: 1 }}
          allowDataOverflow
        />
        <Line
          type="linear"
          dataKey="mbar"
          stroke="#0072BD"
          strokeWidth={1.6}
          dot={false}
          connectNulls={false}
          isAnimationActive={false}
        />
      </LineChart>
    </div>
  );
}
